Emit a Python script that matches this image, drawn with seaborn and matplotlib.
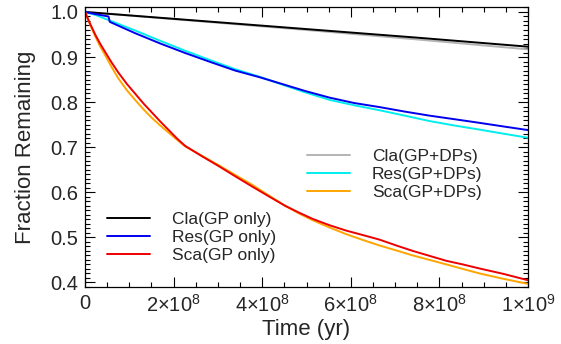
import numpy as np
import pandas as pd
import matplotlib
matplotlib.use("Agg")
import matplotlib.pyplot as plt
import seaborn as sns
from matplotlib.ticker import MultipleLocator, FixedLocator

# ---- data (time in units of 1e9 yr) ----
t_cla = [0.0, 0.25, 0.5, 0.75, 1.0]
cla_gp = [1.0, 0.981, 0.962, 0.943, 0.923]
cla_dp = [1.0, 0.980, 0.960, 0.939, 0.917]

t_res_gp = [0.0, 0.025, 0.053, 0.056, 0.113, 0.17, 0.226, 0.283, 0.339, 0.395, 0.439,
            0.496, 0.552, 0.608, 0.665, 0.722, 0.778, 0.835, 0.891, 0.945, 1.0]
res_gp = [1.0, 0.995, 0.990, 0.978, 0.953, 0.930, 0.909, 0.889, 0.870, 0.855, 0.842,
          0.825, 0.810, 0.798, 0.789, 0.779, 0.770, 0.762, 0.754, 0.746, 0.738]
t_res_dp = [0.0, 0.025, 0.053, 0.113, 0.17, 0.226, 0.283, 0.339, 0.395, 0.439,
            0.496, 0.552, 0.608, 0.665, 0.722, 0.778, 0.835, 0.891, 0.945, 1.0]
res_dp = [1.0, 0.993, 0.982, 0.959, 0.936, 0.914, 0.893, 0.873, 0.856, 0.841,
          0.822, 0.805, 0.793, 0.782, 0.770, 0.758, 0.748, 0.739, 0.730, 0.721]

t_sca = [0.0, 0.011, 0.023, 0.034, 0.045, 0.06, 0.075, 0.094, 0.113, 0.132, 0.151,
         0.17, 0.188, 0.207, 0.226, 0.264, 0.302, 0.34, 0.377, 0.415, 0.452, 0.483,
         0.514, 0.552, 0.590, 0.628, 0.665, 0.703, 0.740, 0.778, 0.816, 0.853, 0.891,
         0.945, 1.0]
sca_gp = [1.0, 0.975, 0.950, 0.930, 0.912, 0.888, 0.866, 0.841, 0.819, 0.797, 0.777,
          0.757, 0.739, 0.720, 0.703, 0.680, 0.658, 0.635, 0.613, 0.591, 0.570, 0.555,
          0.541, 0.527, 0.515, 0.505, 0.495, 0.482, 0.470, 0.459, 0.448, 0.440, 0.431,
          0.419, 0.405]
sca_dp = [1.0, 0.973, 0.946, 0.924, 0.905, 0.878, 0.853, 0.827, 0.805, 0.784, 0.765,
          0.748, 0.733, 0.717, 0.702, 0.681, 0.660, 0.638, 0.617, 0.593, 0.570, 0.553,
          0.538, 0.522, 0.507, 0.494, 0.482, 0.471, 0.460, 0.450, 0.440, 0.430, 0.420,
          0.408, 0.397]

xtick_vals = [0, 0.2, 0.4, 0.6, 0.8, 1.0]
xtick_labels = ["0", r"$2{\times}10^{8}$", r"$4{\times}10^{8}$", r"$6{\times}10^{8}$",
                r"$8{\times}10^{8}$", r"$1{\times}10^{9}$"]

series = [
    ("Cla(GP only)", t_cla, cla_gp, "#000000"),
    ("Res(GP only)", t_res_gp, res_gp, "#0000ee"),
    ("Sca(GP only)", t_sca, sca_gp, "#ee0000"),
    ("Cla(GP+DPs)", t_cla, cla_dp, "#b4b4b4"),
    ("Res(GP+DPs)", t_res_dp, res_dp, "#00eeee"),
    ("Sca(GP+DPs)", t_sca, sca_dp, "#ffa500"),
]

sns.set_style("ticks")
plt.rcParams["font.family"] = ["Liberation Sans", "DejaVu Sans"]
plt.rcParams["mathtext.fontset"] = "custom"
plt.rcParams["mathtext.rm"] = "Liberation Sans"
plt.rcParams["mathtext.it"] = "Liberation Sans"

W, H = 561, 344
fig = plt.figure(figsize=(W / 100, H / 100), dpi=100)
ax = fig.add_axes([85 / W, 1 - 287 / H, (528 - 85) / W, (287 - 7) / H])

handles = {}
draw_order = [3, 0, 4, 1, 5, 2]
for i in draw_order:
    name, tt, vv, col = series[i]
    df = pd.DataFrame({"t": tt, "v": vv})
    sns.lineplot(data=df, x="t", y="v", ax=ax, color=col, linewidth=1.4,
                 estimator=None, sort=False, legend=False)
    handles[name] = ax.lines[-1]

ax.set_xlim(0, 1.0)
ax.set_ylim(0.39, 1.011)
ax.xaxis.set_major_locator(FixedLocator(xtick_vals))
ax.set_xticklabels(xtick_labels)
ax.xaxis.set_minor_locator(MultipleLocator(0.05))
ax.yaxis.set_major_locator(MultipleLocator(0.1))
ax.yaxis.set_minor_locator(MultipleLocator(0.01))
ax.yaxis.set_major_formatter(matplotlib.ticker.FormatStrFormatter("%.1f"))

ax.tick_params(which="both", direction="in", top=True, right=True, color="black",
               width=0.8, labelsize=14.5, pad=5)
ax.tick_params(which="major", length=7)
ax.tick_params(which="minor", length=3.5)
for s in ax.spines.values():
    s.set_linewidth(0.9)
    s.set_color("black")

ax.set_xlabel("Time (yr)", fontsize=16, labelpad=2)
ax.set_ylabel("Fraction Remaining", fontsize=16, labelpad=10)

names1 = ["Cla(GP only)", "Res(GP only)", "Sca(GP only)"]
names2 = ["Cla(GP+DPs)", "Res(GP+DPs)", "Sca(GP+DPs)"]
leg_kw = dict(loc="upper left", frameon=False, fontsize=12.5, handlelength=2.5,
              handletextpad=1.25, labelspacing=0.15, borderpad=0, borderaxespad=0,
              bbox_transform=fig.transFigure)
leg1 = ax.legend([handles[n] for n in names1], names1,
                 bbox_to_anchor=(107 / W, 1 - 212 / H), **leg_kw)
ax.add_artist(leg1)
ax.legend([handles[n] for n in names2], names2,
          bbox_to_anchor=(307 / W, 1 - 149 / H), **leg_kw)

fig.savefig("out.png", dpi=100)
